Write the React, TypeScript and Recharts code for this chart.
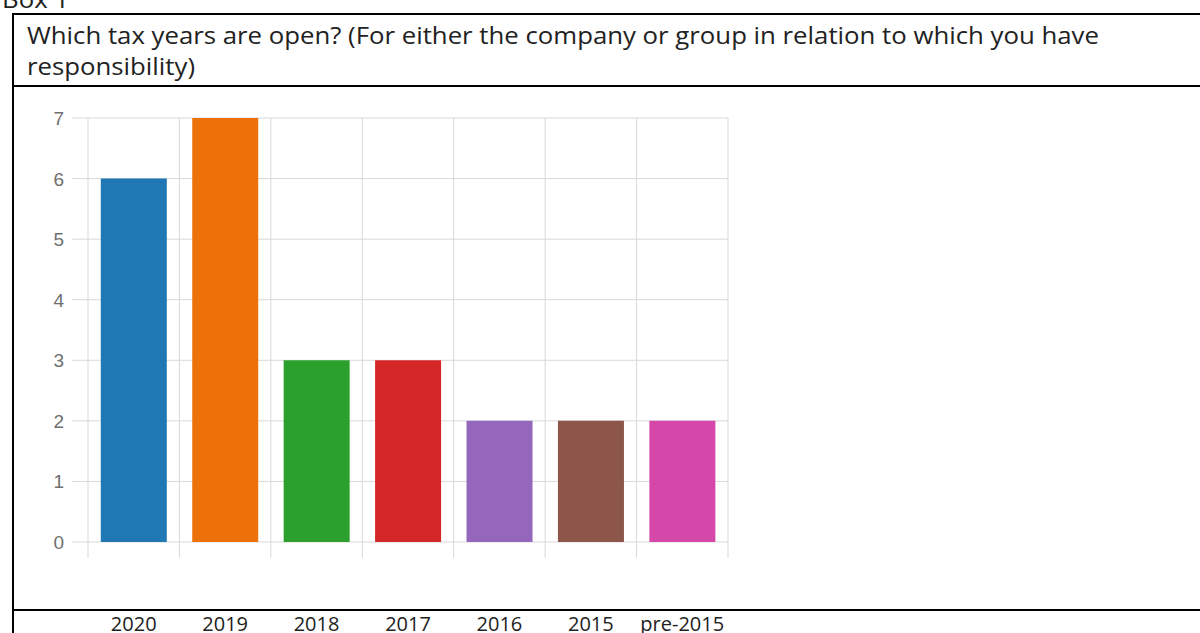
import { BarChart, Bar, XAxis, YAxis, CartesianGrid, Cell } from "recharts";

const years = ["2020", "2019", "2018", "2017", "2016", "2015", "pre-2015"];
const counts = [6, 7, 3, 3, 2, 2, 2];
const barColors = ["#1f77b4", "#ec7108", "#2ca02c", "#d62728", "#9467bd", "#8c564b", "#d548a9"];
const yTicks = [0, 1, 2, 3, 4, 5, 6, 7];

const data = years.map((year, i) => ({ year, count: counts[i] }));

const FONT = '"Open Sans", sans-serif';
const GRID = "#d9d9d9";
const INK = "#222";

const line = (left: number, top: number, width: number, height: number) => (
  <div style={{ position: "absolute", left, top, width, height, background: "#000" }} />
);

// year label sits down in the table's bottom row; also draws the short
// boundary ticks under the zero line
function YearTick({ x, y, payload, index, visibleTicksCount }: any) {
  const half = payload.offset ?? 0;
  return (
    <g>
      <line x1={x - half} x2={x - half} y1={y} y2={y + 16} stroke={GRID} />
      {index === visibleTicksCount - 1 && (
        <line x1={x + half} x2={x + half} y1={y} y2={y + 16} stroke={GRID} />
      )}
      <text x={x} y={y + 89} textAnchor="middle" fill={INK} fontSize={20} fontFamily={FONT}>
        {payload.value}
      </text>
    </g>
  );
}

function CountTick({ x, y, payload }: any) {
  return (
    <text
      x={x}
      y={y}
      dy={7}
      textAnchor="end"
      fill="#707070"
      style={{ fontSize: 19, fontFamily: '"Liberation Sans", Arial, sans-serif' }}
    >
      {payload.value}
    </text>
  );
}

const titleStyle: any = {
  position: "absolute",
  left: 27,
  fontSize: 23,
  lineHeight: "23px",
  whiteSpace: "nowrap",
  transform: "scaleX(1.12)",
  transformOrigin: "left top",
};

export default function App() {
  return (
    <div
      style={{
        position: "fixed",
        left: 0,
        top: 0,
        width: 1200,
        height: 633,
        overflow: "hidden",
        background: "#fff",
        fontFamily: FONT,
        color: INK,
      }}
    >
      <div style={{ ...titleStyle, left: 2, top: -12 }}>Box 1</div>

      {/* table borders */}
      {line(12, 13, 1200, 2)}
      {line(12, 13, 2, 640)}
      {line(12, 85, 1200, 2)}
      {line(12, 609, 1200, 2)}

      {/* question text */}
      <div style={{ ...titleStyle, top: 24 }}>
        Which tax years are open? (For either the company or group in relation to which you have
      </div>
      <div style={{ ...titleStyle, top: 55 }}>responsibility)</div>

      <div style={{ position: "absolute", left: 0, top: 86 }}>
        <BarChart
          width={760}
          height={547}
          data={data}
          margin={{ top: 32, right: 32, left: 0, bottom: 0 }}
          barCategoryGap="14%"
        >
          <CartesianGrid
            stroke={GRID}
            verticalCoordinatesGenerator={({ offset }: any) =>
              years.map((_, i) => offset.left + (i * offset.width) / years.length).concat(offset.left + offset.width)
            }
          />
          <XAxis
            dataKey="year"
            axisLine={false}
            tickLine={false}
            tickSize={0}
            tickMargin={0}
            height={91}
            interval={0}
            tick={<YearTick />}
          />
          <YAxis
            domain={[0, 7]}
            ticks={yTicks}
            width={88}
            axisLine={false}
            tickSize={16}
            tickMargin={8}
            tickLine={{ stroke: GRID }}
            tick={<CountTick />}
          />
          <Bar dataKey="count" isAnimationActive={false}>
            {data.map((_, i) => (
              <Cell key={i} fill={barColors[i]} />
            ))}
          </Bar>
        </BarChart>
      </div>
    </div>
  );
}
